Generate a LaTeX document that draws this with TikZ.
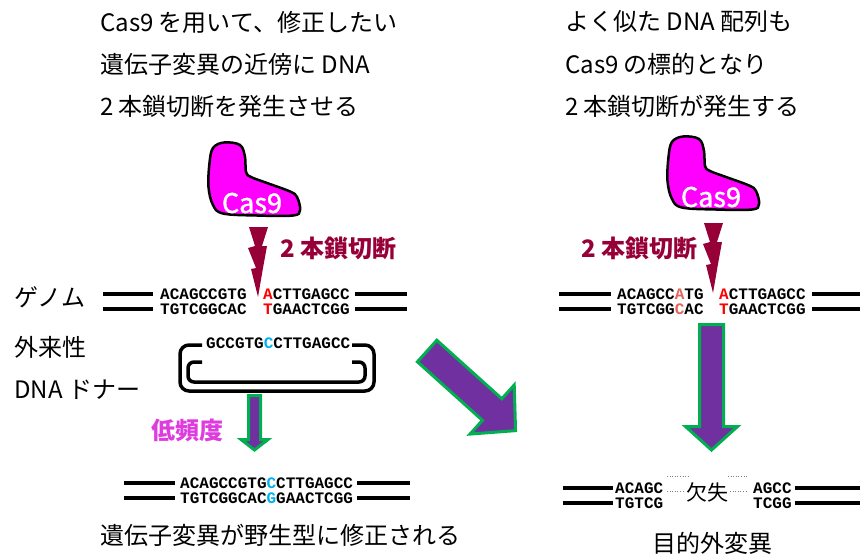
\documentclass[tikz,border=0pt]{standalone}
\usepackage{fontspec}
\setmainfont{Noto Sans CJK JP}
\newfontfamily\seqfont{Liberation Mono}
\newfontfamily\casfont{Noto Sans CJK JP}[FakeBold=1.6]
\usepackage{tikz}
\usetikzlibrary{positioning}

\definecolor{cutred}{RGB}{150,0,55}
\definecolor{casmag}{RGB}{255,0,255}
\definecolor{lowmag}{RGB}{222,60,222}
\definecolor{blockpurple}{RGB}{112,48,160}
\definecolor{blockgreen}{RGB}{0,176,80}
\definecolor{hitred}{RGB}{255,0,0}
\definecolor{offred}{RGB}{226,100,90}
\definecolor{fixcyan}{RGB}{0,176,240}

\newcommand{\fs}[1]{\fontsize{#1}{#1}\selectfont}

\begin{document}
\begin{tikzpicture}
[x=1pt,y=-1pt]
\tikzset{
	txt/.style = {anchor=west, inner sep=0, font=\fs{24}},
	seq/.style = {anchor=west, inner sep=0, font=\seqfont\bfseries\fs{16}},
	cutlabel/.style = {anchor=west, inner sep=0, font=\bfseries\fs{24}, text=cutred},
	strand/.style = {line width=4pt},
	block/.style = {fill=blockpurple, draw=blockgreen, line width=3pt, line join=miter},
	protein/.style = {fill=casmag, draw=black, line width=2.5pt},
	cas9/.pic = {
		\draw[protein] plot[smooth cycle, tension=0.6] coordinates {
			(213,148) (224,142.5) (240,145) (245,157) (246,172) (251,177) (267,183)
			(290,191.5) (297,197) (300,210) (293,215.5) (257,215.5) (223,213.5)
			(213,205) (208.5,187) (209.5,163)};
		\node[inner sep=0, font=\casfont\fs{27}, text=white] (-name) at (252,203) {Cas9};
	},
	cut/.pic = {
		\fill[cutred] (249,227) -- (268,227) -- (262,246) -- (267,246) -- (263,268)
			-- (258,297) -- (251,269) -- (256,268) -- (248,248) -- (255,246) -- cycle;
	}
}
\useasboundingbox (0,0) rectangle (860,554);

% captions
\node[txt] (t1) at (100,22) {Cas9 を用いて、修正したい};
\node[txt] (t2) at (100,64) {遺伝子変異の近傍に DNA};
\node[txt] (t3) at (100,106) {2 本鎖切断を発生させる};
\node[txt] (r1) at (565,22) {よく似た DNA 配列も};
\node[txt] (r2) at (565,64) {Cas9 の標的となり};
\node[txt] (r3) at (565,106) {2 本鎖切断が発生する};

\node[txt] (genome) at (14,297) {ゲノム};
\node[txt] (donor1) at (14,347) {外来性};
\node[txt] (donor2) at (14,390) {DNA ドナー};

% Cas9 and the cut
\pic (casL) at (0,0) {cas9};
\pic (casR) at (459,-6) {cas9};
\pic at (0,0) {cut};
\pic at (455,-4) {cut};
\node[cutlabel] (cutL) at (280,248) {2 本鎖切断};
\node[cutlabel] (cutR) at (581,248) {2 本鎖切断};

% target site
\draw[strand] (103,294) -- (153,294) (355,294) -- (407,294);
\draw[strand] (103,309) -- (153,309) (355,309) -- (407,309);
\node[seq] (gLa) at (160,294) {ACAGCCGTG};
\node[seq] (gLb) at (263,294) {\textcolor{hitred}{A}CTTGAGCC};
\node[seq] (gLc) at (160,309) {TGTCGGCAC};
\node[seq] (gLd) at (263,309) {\textcolor{hitred}{T}GAACTCGG};

% off-target site
\draw[strand] (559,294) -- (611,294) (812,294) -- (860,294);
\draw[strand] (559,309) -- (611,309) (812,309) -- (860,309);
\node[seq] (gRa) at (617,294) {ACAGCC\textcolor{offred}{A}TG};
\node[seq] (gRb) at (719,294) {\textcolor{hitred}{A}CTTGAGCC};
\node[seq] (gRc) at (617,309) {TGTCGG\textcolor{offred}{C}AC};
\node[seq] (gRd) at (719,309) {\textcolor{hitred}{T}GAACTCGG};

% donor
\draw[line width=3.5pt, rounded corners=9] (202,345) -- (180,345) -- (180,391) -- (374,391) -- (374,345) -- (352,345);
\draw[line width=3.5pt, rounded corners=6] (202,362) -- (188,362) -- (188,382) -- (365,382) -- (365,362) -- (352,362);
\node[seq] (dna) at (206,343) {GCCGTG\textcolor{fixcyan}{C}CTTGAGCC};

% arrows
\draw[block] (248.5,395.5) -- (260.5,395.5) -- (260.5,439.5) -- (268,439.5) -- (254.5,450)
	-- (241,439.5) -- (248.5,439.5) -- cycle;
\node[anchor=west, inner sep=0, font=\bfseries\fs{24}, text=lowmag] (low) at (151,430) {低頻度};
\draw[block] (699.5,324.5) -- (723.5,324.5) -- (723.5,426.5) -- (737.5,426.5) -- (711.5,450)
	-- (685.5,426.5) -- (699.5,426.5) -- cycle;
\begin{scope}[shift={(426,350)}, rotate=-42]
	\draw[block] (1.5,-14.5) -- (89,-14.5) -- (89,-33) -- (120.5,0) -- (89,33) -- (89,14.5)
		-- (1.5,14.5) -- cycle;
\end{scope}

% repaired
\draw[strand] (124,483) -- (175,483) (357,483) -- (410,483);
\draw[strand] (124,498) -- (175,498) (357,498) -- (410,498);
\node[seq] (fixa) at (180,483) {ACAGCCGTG\textcolor{fixcyan}{C}CTTGAGCC};
\node[seq] (fixb) at (180,498) {TGTCGGCAC\textcolor{fixcyan}{G}GAACTCGG};
\node[txt] (fixtxt) at (100,535) {遺伝子変異が野生型に修正される};

% deletion
\draw[strand] (563,488) -- (613,488) (795,488) -- (860,488);
\draw[strand] (563,503) -- (613,503) (795,503) -- (860,503);
\node[seq] (delA) at (615,488) {ACAGC};
\node[seq] (delB) at (615,503) {TGTCG};
\node[seq] (delC) at (753,488) {AGCC};
\node[seq] (delD) at (753,503) {TCGG};
\draw[gray, dotted, line width=0.6pt] (667,476) -- (688,476) (667,491) -- (684,491)
	(728,476) -- (748,476) (730,491) -- (748,491);
\node[inner sep=0, font=\fs{21}] (del) at (707,492) {欠失};
\node[txt] (offtxt) at (652,543) {目的外変異};
\end{tikzpicture}
\end{document}
